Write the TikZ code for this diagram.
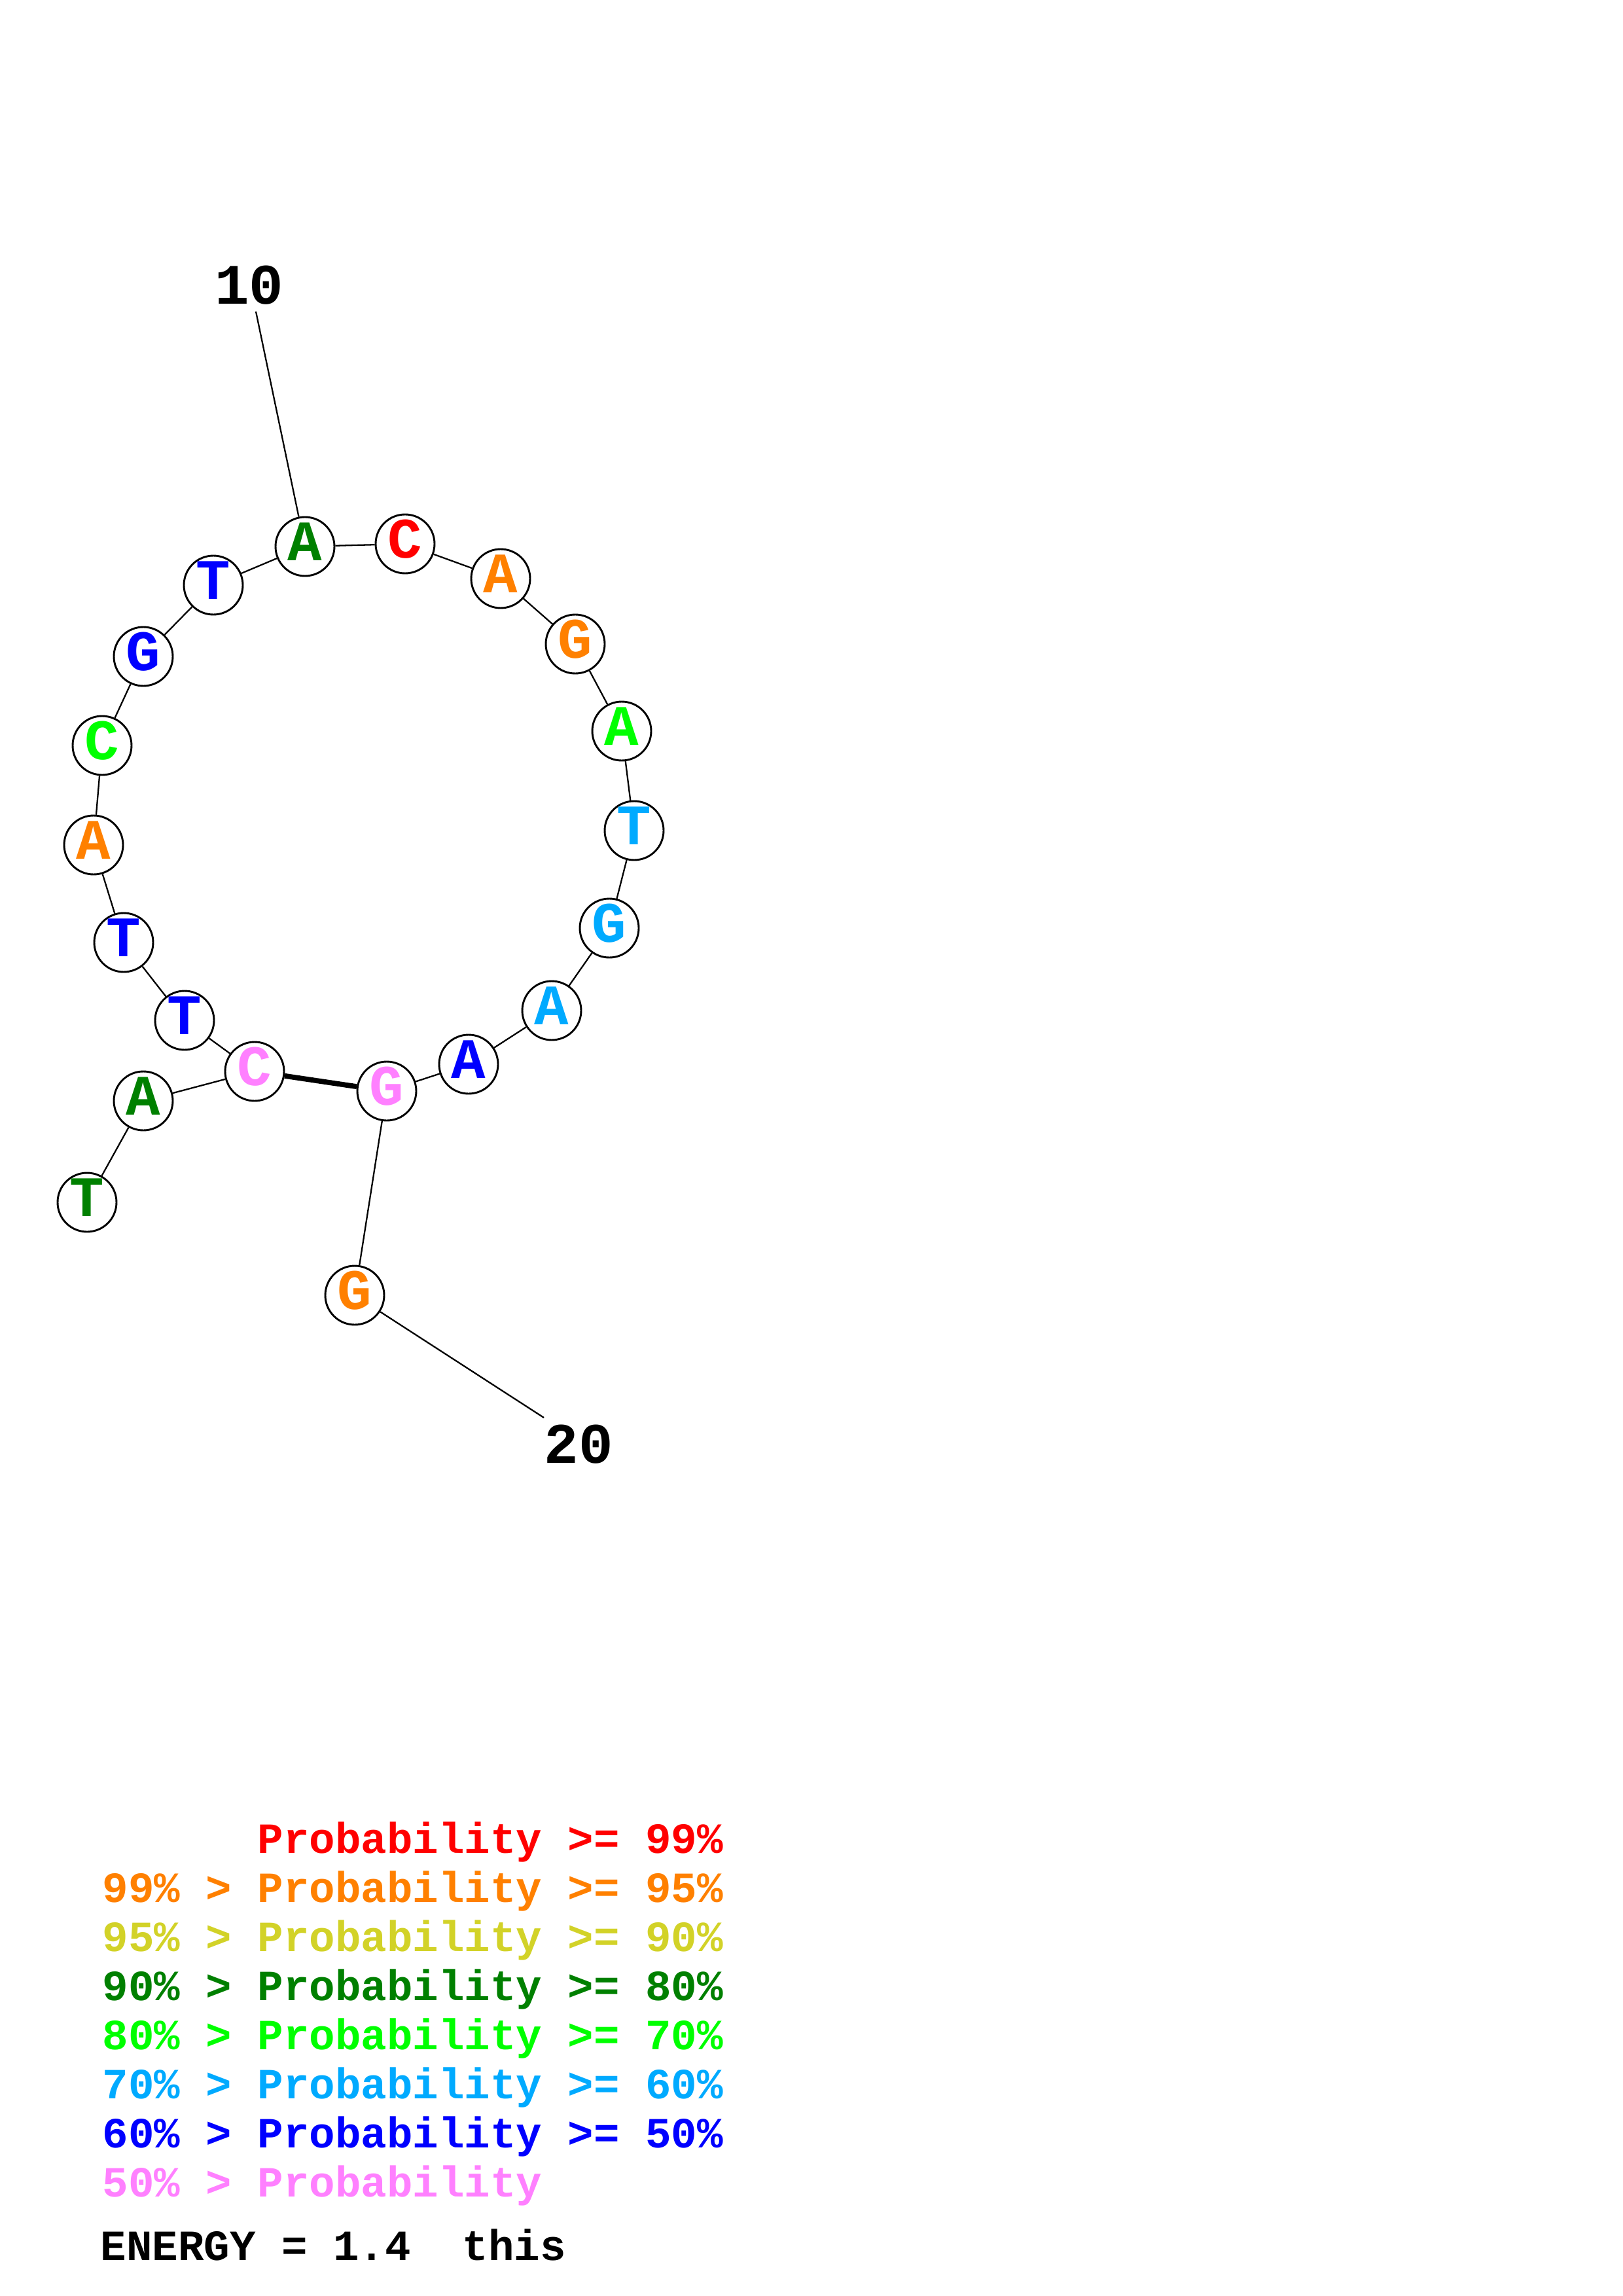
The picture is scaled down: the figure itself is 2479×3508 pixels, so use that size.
\documentclass[tikz,border=0pt]{standalone}
\usepackage{fontspec}
\setmainfont{Liberation Mono}
\definecolor{pR}{RGB}{255,0,0}
\definecolor{pO}{RGB}{255,128,0}
\definecolor{pY}{RGB}{210,210,40}
\definecolor{pDG}{RGB}{0,128,0}
\definecolor{pG}{RGB}{0,255,0}
\definecolor{pLB}{RGB}{0,170,255}
\definecolor{pB}{RGB}{0,0,255}
\definecolor{pP}{RGB}{255,128,255}
\newcommand{\ntfont}{\fontsize{21}{21}\selectfont\bfseries}
\newcommand{\lgfont}{\fontsize{15.8}{16}\selectfont\bfseries}
\begin{document}
\begin{tikzpicture}[x=0.24pt,y=-0.24pt,
  nt/.style={circle,draw,line width=0.7pt,fill=white,minimum size=21.6pt,inner sep=0pt,
    font=\ntfont,text height=10.5pt,text depth=0pt},
  bb/.style={line width=0.55pt},
  pairbond/.style={line width=1.9pt},
  numlab/.style={font=\ntfont,inner sep=0pt},
  lg/.style={anchor=base west,inner sep=0pt,font=\lgfont}]
\path[use as bounding box] (0,0) rectangle (2479,3508);
% nucleotides
\node[nt,text=pDG] (n1) at (133,1837) {T};
\node[nt,text=pDG] (n2) at (219,1682) {A};
\node[nt,text=pP]  (n3) at (389,1637) {C};
\node[nt,text=pB]  (n4) at (282,1559) {T};
\node[nt,text=pB]  (n5) at (189,1440) {T};
\node[nt,text=pO]  (n6) at (143,1291) {A};
\node[nt,text=pG]  (n7) at (156,1139) {C};
\node[nt,text=pB]  (n8) at (219,1003) {G};
\node[nt,text=pB]  (n9) at (326,894) {T};
\node[nt,text=pDG] (n10) at (466,835) {A};
\node[nt,text=pR]  (n11) at (619,831) {C};
\node[nt,text=pO]  (n12) at (765,884) {A};
\node[nt,text=pO]  (n13) at (879,984) {G};
\node[nt,text=pG]  (n14) at (950,1117) {A};
\node[nt,text=pLB] (n15) at (969,1269) {T};
\node[nt,text=pLB] (n16) at (931,1418) {G};
\node[nt,text=pLB] (n17) at (843,1544) {A};
\node[nt,text=pB]  (n18) at (716,1626) {A};
\node[nt,text=pP]  (n19) at (591,1667) {G};
\node[nt,text=pO]  (n20) at (542,1979) {G};
% backbone
\foreach \a/\b in {1/2,2/3,3/4,4/5,5/6,6/7,7/8,8/9,9/10,10/11,11/12,12/13,13/14,14/15,15/16,16/17,17/18,18/19,19/20}
  \draw[bb] (n\a) -- (n\b);
\draw[pairbond] (n3) -- (n19);
% number labels
\node[numlab] (l10) at (381,436) {10};
\coordinate (c10) at (391,476);
\draw[bb] (c10) -- (n10);
\node[numlab] (l20) at (884,2207) {20};
\coordinate (c20) at (831,2166);
\draw[bb] (n20) -- (c20);
% legend
\node[lg,text=pR]  (g1) at (393,2831) {Probability >= 99\%};
\node[lg,text=pO]  (g2) at (156,2906) {99\% > Probability >= 95\%};
\node[lg,text=pY]  (g3) at (156,2981) {95\% > Probability >= 90\%};
\node[lg,text=pDG] (g4) at (156,3056) {90\% > Probability >= 80\%};
\node[lg,text=pG]  (g5) at (156,3131) {80\% > Probability >= 70\%};
\node[lg,text=pLB] (g6) at (156,3206) {70\% > Probability >= 60\%};
\node[lg,text=pB]  (g7) at (156,3281) {60\% > Probability >= 50\%};
\node[lg,text=pP]  (g8) at (156,3356) {50\% > Probability};
\node[lg,text=black] (en) at (153,3453) {ENERGY = 1.4\ \ this};
\end{tikzpicture}
\end{document}
